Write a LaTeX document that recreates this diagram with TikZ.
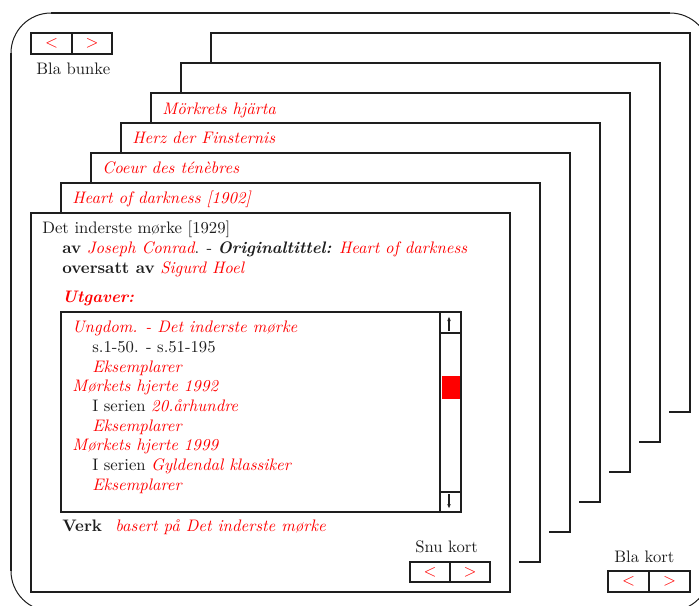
\documentclass[tikz,border=0pt]{standalone}
\usetikzlibrary{arrows.meta}
\definecolor{ink}{HTML}{1E1E1E}
\definecolor{hot}{HTML}{FF0000}
\newcommand{\hl}[1]{{\color{hot}\itshape #1}}
\begin{document}
\begin{tikzpicture}[x=0.6pt,y=-0.6pt,
  edge/.style={draw=ink, line width=1.2pt},
  hair/.style={draw=ink, line width=0.6pt},
  txt/.style={anchor=base west, inner sep=0pt, text=ink},
  sym/.style={anchor=center, inner sep=0pt, text=hot}]
\useasboundingbox (0,0) rectangle (699,605);
\clip (0,0) rectangle (699,605);

% outer window frame: straight sides heavy, corners light
\draw[edge] (11,53) -- (11,571);
\draw[edge] (51,13) -- (670,13);
\draw[edge] (710,53) -- (710,571);
\draw[edge] (51,611) -- (670,611);
\draw[hair] (11,53) arc[start angle=180, end angle=270, radius=40];
\draw[hair] (670,13) arc[start angle=270, end angle=360, radius=40];
\draw[hair] (11,571) arc[start angle=180, end angle=90, radius=40];
\draw[hair] (710,571) arc[start angle=0, end angle=90, radius=40];

% stack of cards behind the front card (visible edges only)
\foreach \i in {1,...,6}{
  \draw[edge] (31+30*\i, 243-30*\i) -- (31+30*\i, 213-30*\i)
    -- (510+30*\i, 213-30*\i) -- (510+30*\i, 592-30*\i)
    -- (489+30*\i, 592-30*\i);
}
\node[txt] (t1) at (72,203) {\hl{Heart of darkness [1902]}};
\node[txt] (t2) at (102,173) {\hl{Coeur des ténèbres}};
\node[txt] (t3) at (132,143) {\hl{Herz der Finsternis}};
\node[txt] (t4) at (162,114) {\hl{Mörkrets hjärta}};

% front card
\draw[edge] (31,213) rectangle (510,592);
\node[txt] (title) at (42,233) {Det inderste mørke [1929]};
\node[txt] (author) at (62,253) {\textbf{av} \hl{Joseph Conrad}. - \textbf{\itshape Originaltittel:} \hl{Heart of darkness}};
\node[txt] (transl) at (62,273) {\textbf{oversatt av} \hl{Sigurd Hoel}};
\node[txt] (edhead) at (62,302) {{\color{hot}\bfseries\itshape Utgaver:}};

% editions list with scrollbar
\draw[edge] (61,312) rectangle (461,512);
\draw[edge] (440,312) -- (440,512);
\draw[edge] (440,333) -- (461,333);
\draw[edge] (440,492) -- (461,492);
\fill[hot] (442,376) rectangle (460.4,399);
\coordinate (upA) at (449,331);
\coordinate (upB) at (449,316);
\coordinate (dnA) at (449,494);
\coordinate (dnB) at (449,509);
\draw[draw=ink, line width=0.8pt, -{Latex[length=3pt,width=2.2pt]}] (upA) -- (upB);
\draw[draw=ink, line width=0.8pt, -{Latex[length=3pt,width=2.2pt]}] (dnA) -- (dnB);

\node[txt] (e1) at (72,332) {\hl{Ungdom. - Det inderste mørke}};
\node[txt] (e1a) at (92,352) {s.1-50. - s.51-195};
\node[txt] (e1b) at (92,372) {\hl{Eksemplarer}};
\node[txt] (e2) at (72,391) {\hl{Mørkets hjerte 1992}};
\node[txt] (e2a) at (92,411) {I serien \hl{20.århundre}};
\node[txt] (e2b) at (92,431) {\hl{Eksemplarer}};
\node[txt] (e3) at (72,450) {\hl{Mørkets hjerte 1999}};
\node[txt] (e3a) at (92,470) {I serien \hl{Gyldendal klassiker}};
\node[txt] (e3b) at (92,490) {\hl{Eksemplarer}};

\node[txt] (verk) at (62,531) {\textbf{Verk}\hspace{8pt}\hl{basert på Det inderste mørke}};

% navigation buttons
\node[txt] (bunke) at (36,74) {Bla bunke};
\draw[edge] (31,33) rectangle (112,54);
\draw[edge] (72,33) -- (72,54);
\node[sym] (bp) at (51.5,43.5) {$<$};
\node[sym] (bn) at (92,43.5) {$>$};

\node[txt] (snu) at (415,552) {Snu kort};
\draw[edge] (410,562) rectangle (490,582);
\draw[edge] (449.5,562) -- (449.5,582);
\node[sym] (sp) at (430,572) {$<$};
\node[sym] (sn) at (470,572) {$>$};

\node[txt] (kort) at (614,562) {Bla kort};
\draw[edge] (608,571) rectangle (690,592);
\draw[edge] (649,571) -- (649,592);
\node[sym] (kp) at (628.5,581.5) {$<$};
\node[sym] (kn) at (669.5,581.5) {$>$};
\end{tikzpicture}
\end{document}
